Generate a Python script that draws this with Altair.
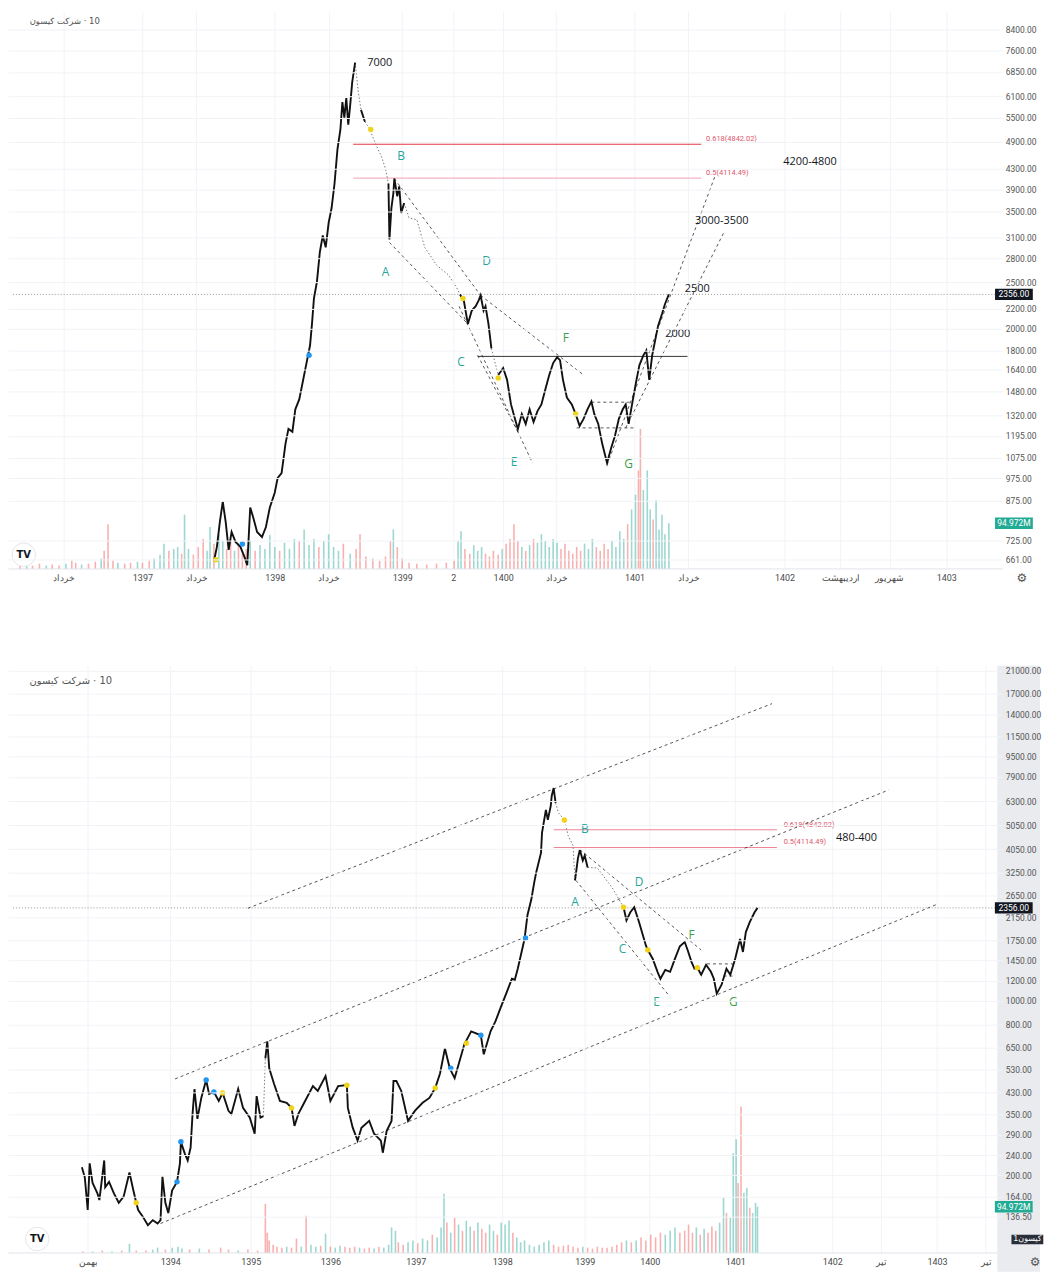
import json
import altair as alt
import pandas as pd

# ------------------------------------------------------------------ layout
W = 1000
H_TOP = 560
H_BOT = 590
GAP = 82
FONT = "Open Sans"
AXIS_FONT = "Roboto"
BOX_SHAPE = "M-1,-0.3L1,-0.3L1,0.3L-1,0.3Z"

TITLE = "شرکت کیسون\u200e · 10"
CURRENT_PRICE = 2356
LAST_VOLUME = 94.972

# ================================================================== TOP PANEL
TOP_BAR_DOMAIN = [8, 1012]
TOP_PRICE_DOMAIN = [633, 9144]
TOP_VOL_DOMAIN = [0, 1170]

TOP_XTICK_BARS = [60, 140, 195, 275, 330, 405, 457, 508, 562, 642, 697, 795, 852, 902, 960]
TOP_XTICK_LABELS = ["خرداد", "1397", "خرداد", "1398", "خرداد", "1399", "2", "1400",
                    "خرداد", "1401", "خرداد", "1402", "اردیبهشت", "شهریور", "1403"]
TOP_YTICKS = [8400, 7600, 6850, 6100, 5500, 4900, 4300, 3900, 3500, 3100, 2800, 2500,
              2200, 2000, 1800, 1640, 1480, 1320, 1195, 1075, 975, 875, 725, 661]

# (bar, price)
TOP_PATH = [
    (213, 655), (216, 702), (219, 790), (222, 872), (225, 790), (228, 692), (231, 754), (235, 719),
    (240, 702), (244, 670), (247, 643), (250, 848), (253, 809), (257, 754), (262, 736), (266, 772),
    (270, 848), (275, 910), (278, 977), (282, 1000), (286, 1152), (289, 1236), (293, 1219), (296, 1358),
    (300, 1424), (304, 1564), (308, 1719), (311, 1844), (313, 2045), (315, 2312), (318, 2500), (321, 2884),
    (324, 3125), (327, 2953), (330, 3322), (333, 3565), (336, 4010), (339, 4729), (342, 5196), (344, 5927),
    (346, 5498), (348, 6040), (350, 5320), (352, 5846), (354, 6512), (357, 7157), (360, 6273), (363, 5710),
    (367, 5394), (372, 5196), (378, 4842), (384, 4555), (388, 4304), (391, 4010), (392, 3066), (394, 3565),
    (396, 3827), (397, 4106), (400, 3772), (402, 3955), (404, 3482), (407, 3650), (412, 3401), (420, 3370),
    (428, 2953), (440, 2713), (452, 2588), (460, 2446), (464, 2356), (468, 2280), (472, 2045), (476, 2180),
    (480, 2226), (483, 2290), (485, 2345), (488, 2180), (490, 2226), (493, 2045), (496, 1818), (503, 1601),
    (508, 1655), (512, 1564), (516, 1390), (520, 1297), (523, 1236), (527, 1327), (531, 1266), (535, 1358),
    (539, 1278), (543, 1346), (547, 1390), (551, 1493), (555, 1601), (559, 1695), (563, 1743), (566, 1719),
    (569, 1564), (573, 1437), (578, 1390), (582, 1327), (586, 1254), (590, 1297), (594, 1358), (598, 1410),
    (601, 1327), (605, 1266), (609, 1152), (614, 1049), (618, 1125), (622, 1195), (626, 1297), (630, 1358),
    (633, 1390), (636, 1266), (640, 1410), (644, 1564), (647, 1679), (651, 1759), (654, 1801), (657, 1564),
    (660, 1759), (663, 1888), (666, 2026), (670, 2144), (673, 2248), (677, 2356)]
# bar ranges where only sparse (gapped) candles are drawn
TOP_SPARSE = [(357, 363), (367, 391), (407, 464), (496, 503)]

# (bar, volume in M, direction)
TOP_VOLUME = [
    (15, 6, 'd'), (22, 8, 'u'), (28, 6, 'd'), (35, 10, 'd'), (42, 6, 'u'), (48, 8, 'd'), (55, 6, 'd'),
    (62, 10, 'u'), (68, 16, 'd'), (72, 12, 'd'), (78, 8, 'u'), (85, 10, 'd'), (92, 14, 'd'), (98, 21, 'u'),
    (101, 37, 'd'), (105, 93, 'd'), (110, 16, 'd'), (115, 12, 'u'), (122, 10, 'd'), (128, 12, 'd'),
    (135, 14, 'u'), (140, 12, 'd'), (147, 16, 'd'), (152, 21, 'u'), (158, 29, 'u'), (162, 52, 'u'),
    (167, 37, 'd'), (172, 41, 'u'), (176, 45, 'u'), (180, 31, 'd'), (183, 113, 'u'), (187, 41, 'u'),
    (192, 29, 'd'), (197, 45, 'd'), (202, 62, 'd'), (206, 37, 'u'), (209, 87, 'u'), (213, 52, 'd'),
    (218, 72, 'u'), (222, 58, 'u'), (226, 41, 'd'), (230, 62, 'd'), (234, 37, 'u'), (238, 52, 'd'),
    (242, 31, 'd'), (246, 41, 'd'), (250, 58, 'u'), (255, 37, 'd'), (260, 49, 'u'), (265, 41, 'u'),
    (270, 70, 'u'), (275, 45, 'u'), (280, 37, 'd'), (285, 54, 'u'), (290, 41, 'u'), (295, 62, 'u'),
    (300, 58, 'd'), (305, 82, 'u'), (310, 49, 'u'), (315, 62, 'u'), (320, 45, 'd'), (325, 58, 'u'),
    (330, 72, 'u'), (335, 45, 'u'), (340, 37, 'u'), (345, 52, 'd'), (352, 31, 'u'), (358, 41, 'd'),
    (362, 72, 'd'), (368, 25, 'd'), (375, 21, 'd'), (382, 16, 'd'), (388, 25, 'd'), (393, 58, 'd'),
    (396, 82, 'u'), (400, 45, 'd'), (405, 21, 'd'), (412, 12, 'd'), (420, 10, 'd'), (430, 8, 'd'),
    (440, 10, 'd'), (450, 12, 'd'), (458, 16, 'd'), (462, 58, 'u'), (465, 78, 'u'), (469, 41, 'd'),
    (474, 31, 'd'), (478, 49, 'u'), (482, 37, 'u'), (486, 45, 'u'), (490, 31, 'd'), (494, 25, 'd'),
    (498, 37, 'd'), (503, 29, 'd'), (507, 41, 'u'), (511, 52, 'd'), (515, 62, 'd'), (519, 93, 'd'),
    (523, 58, 'd'), (527, 45, 'u'), (531, 37, 'd'), (535, 49, 'u'), (539, 62, 'd'), (543, 54, 'u'),
    (547, 72, 'u'), (551, 58, 'u'), (555, 45, 'u'), (559, 62, 'u'), (563, 54, 'u'), (567, 41, 'd'),
    (571, 52, 'd'), (575, 37, 'd'), (579, 31, 'd'), (583, 45, 'd'), (587, 37, 'd'), (591, 52, 'u'),
    (595, 41, 'u'), (599, 62, 'u'), (603, 45, 'd'), (607, 37, 'd'), (611, 52, 'd'), (615, 41, 'd'),
    (619, 58, 'u'), (623, 45, 'u'), (627, 78, 'u'), (631, 62, 'u'), (635, 93, 'd'), (639, 124, 'u'),
    (643, 155, 'u'), (646, 206, 'd'), (648, 293, 'd'), (651, 165, 'u'), (655, 206, 'u'), (658, 124, 'u'),
    (661, 103, 'd'), (664, 144, 'u'), (667, 82, 'u'), (670, 113, 'u'), (673, 72, 'u'), (677, 95, 'u')]

TOP_DOTS_YELLOW = [(215, 660), (373, 5196), (467, 2310), (503, 1578), (582, 1327)]
TOP_DOTS_BLUE = [(242, 712), (310, 1759)]

# (text, bar, price, kind)
TOP_TEXTS = [
    ("7000", 382, 7157, "num"), ("B", 404, 4576, "wave"), ("A", 388, 2625, "wave"),
    ("D", 491, 2765, "wave"), ("C", 465, 1702, "wave"), ("E", 519, 1054, "wave"),
    ("F", 572, 1915, "wave2"), ("G", 636, 1044, "wave2"), ("4200-4800", 821, 4446, "num"),
    ("3000-3500", 731, 3353, "num"), ("2500", 706, 2412, "num"), ("2000", 686, 1952, "num")]

# (ratio, price, bar_from, bar_to)
TOP_FIBS = [(0.618, 4842.02, 355, 710), (0.5, 4114.49, 355, 710)]
TOP_FIB_LABEL_BAR = 715

# (bar1, price1, bar2, price2)
TOP_DASHED = [
    (397, 4106, 485, 2345), (485, 2345, 590, 1601), (392, 3023, 472, 2045),
    (463, 2226, 538, 1049), (482, 1759, 523, 1219), (614, 1040, 724, 4150),
    (633, 1242, 733, 3168), (598, 1405, 637, 1405), (583, 1242, 642, 1242)]
# (price, bar_from, bar_to)
TOP_LEVELS = [(1750, 482, 696)]

# ================================================================== BOTTOM PANEL
BOT_BAR_DOMAIN = [8, 1022]
BOT_PRICE_DOMAIN = [98, 21980]
BOT_VOL_DOMAIN = [0, 1218]

BOT_XTICK_BARS = [85, 170, 253, 335, 423, 512, 597, 664, 752, 852, 902, 960, 1010]
BOT_XTICK_LABELS = ["بهمن", "1394", "1395", "1396", "1397", "1398", "1399", "1400",
                    "1401", "1402", "تیر", "1403", "تیر"]
BOT_YTICKS = [21000, 17000, 14000, 11500, 9500, 7900, 6300, 5050, 4050, 3250, 2650, 2150,
              1750, 1450, 1200, 1000, 800, 650, 530, 430, 350, 290, 240, 200, 164, 136.5]

BOT_PATH = [
    (79, 215), (82, 196), (85, 145), (87, 223), (90, 186), (95, 169), (97, 159), (102, 229), (103, 179),
    (107, 188), (112, 169), (117, 155), (122, 164), (128, 205), (132, 174), (135, 155), (137, 145),
    (142, 136), (147, 126), (152, 132), (157, 128), (160, 132), (162, 197), (165, 155), (168, 141),
    (172, 174), (177, 188), (180, 223), (181, 272), (185, 244), (188, 229), (191, 258), (193, 352),
    (195, 443), (198, 336), (202, 408), (207, 481), (210, 423), (215, 431), (220, 397), (224, 427),
    (230, 362), (233, 352), (240, 443), (245, 372), (252, 340), (257, 293), (259, 415), (263, 340),
    (266, 345), (268, 588), (270, 688), (272, 536), (277, 464), (283, 397), (290, 390), (295, 372),
    (298, 315), (302, 352), (308, 390), (317, 455), (322, 435), (330, 499), (335, 397), (343, 455),
    (352, 459), (353, 372), (358, 310), (363, 275), (367, 310), (375, 330), (380, 293), (387, 275),
    (389, 246), (393, 301), (398, 330), (400, 477), (403, 477), (408, 435), (415, 330), (422, 362),
    (430, 390), (437, 408), (443, 447), (448, 512), (453, 644), (458, 536), (463, 490), (468, 572),
    (473, 669), (480, 754), (490, 727), (493, 610), (500, 754), (505, 826), (510, 930), (518, 1116),
    (522, 1225), (525, 1214), (528, 1344), (535, 1767), (538, 2202), (542, 2550), (545, 2980),
    (547, 3266), (552, 3923), (553, 4712), (557, 5820), (559, 5305), (562, 6040), (563, 6620),
    (565, 7120), (567, 6203), (570, 5660), (576, 5305), (580, 4585), (585, 4180), (587, 3036),
    (590, 3720), (592, 4030), (595, 3645), (597, 3817), (600, 3419), (610, 3405), (625, 2848),
    (637, 2369), (640, 2101), (644, 2263), (648, 2369), (653, 2065), (657, 1825), (660, 1665),
    (662, 1597), (667, 1474), (672, 1306), (675, 1225), (680, 1330), (685, 1306), (690, 1474),
    (695, 1653), (700, 1719), (703, 1597), (707, 1431), (710, 1344), (713, 1356), (717, 1271),
    (722, 1393), (727, 1306), (730, 1225), (733, 1068), (738, 1160), (743, 1344), (747, 1271),
    (752, 1474), (757, 1767), (760, 1569), (763, 1884), (767, 2065), (772, 2263), (775, 2356)]
BOT_SPARSE = [(266, 268), (567, 587), (600, 637)]

BOT_VOLUME = [
    (80, 2, 'd'), (90, 2, 'u'), (100, 4, 'd'), (110, 2, 'u'), (120, 4, 'd'), (128, 18, 'u'), (135, 4, 'd'),
    (145, 4, 'd'), (152, 6, 'u'), (157, 10, 'u'), (165, 6, 'd'), (172, 10, 'u'), (178, 12, 'u'),
    (182, 8, 'u'), (190, 6, 'd'), (200, 8, 'u'), (210, 6, 'd'), (222, 10, 'd'), (230, 6, 'd'),
    (240, 4, 'u'), (250, 6, 'd'), (260, 4, 'd'), (268, 101, 'd'), (270, 41, 'd'), (272, 25, 'd'),
    (276, 16, 'd'), (280, 12, 'd'), (285, 10, 'd'), (290, 12, 'u'), (295, 10, 'd'), (300, 29, 'd'),
    (305, 12, 'u'), (310, 76, 'd'), (315, 16, 'u'), (320, 12, 'u'), (325, 14, 'd'), (330, 39, 'u'),
    (335, 12, 'd'), (340, 10, 'u'), (345, 14, 'u'), (350, 12, 'd'), (355, 10, 'd'), (360, 12, 'd'),
    (365, 10, 'u'), (370, 8, 'd'), (375, 10, 'd'), (380, 8, 'u'), (385, 12, 'd'), (390, 10, 'u'),
    (395, 16, 'u'), (398, 52, 'u'), (402, 45, 'u'), (405, 21, 'd'), (410, 16, 'd'), (415, 21, 'u'),
    (420, 25, 'u'), (425, 19, 'd'), (430, 29, 'u'), (435, 25, 'u'), (440, 37, 'd'), (445, 31, 'u'),
    (449, 52, 'u'), (452, 122, 'u'), (455, 62, 'd'), (459, 41, 'u'), (463, 72, 'd'), (467, 58, 'u'),
    (471, 45, 'd'), (475, 66, 'u'), (479, 54, 'u'), (483, 45, 'd'), (487, 62, 'u'), (491, 49, 'd'),
    (495, 41, 'd'), (499, 58, 'u'), (503, 45, 'u'), (507, 37, 'd'), (511, 62, 'u'), (515, 58, 'u'),
    (519, 66, 'u'), (523, 41, 'd'), (527, 31, 'u'), (531, 21, 'u'), (535, 25, 'u'), (540, 16, 'u'),
    (545, 12, 'u'), (550, 16, 'u'), (555, 21, 'u'), (560, 25, 'u'), (565, 16, 'd'), (570, 12, 'd'),
    (575, 14, 'd'), (580, 16, 'd'), (585, 12, 'd'), (590, 10, 'd'), (595, 12, 'u'), (600, 10, 'd'),
    (605, 8, 'd'), (610, 12, 'd'), (615, 10, 'd'), (620, 10, 'd'), (625, 12, 'd'), (630, 16, 'd'),
    (635, 21, 'd'), (640, 25, 'u'), (645, 21, 'd'), (650, 25, 'u'), (655, 31, 'd'), (660, 25, 'd'),
    (665, 37, 'd'), (670, 31, 'd'), (675, 41, 'd'), (680, 37, 'u'), (685, 45, 'u'), (690, 52, 'u'),
    (695, 41, 'd'), (700, 45, 'd'), (704, 58, 'd'), (708, 41, 'd'), (712, 52, 'u'), (716, 37, 'd'),
    (720, 49, 'u'), (724, 41, 'd'), (728, 54, 'd'), (732, 45, 'd'), (736, 62, 'u'), (740, 113, 'u'),
    (743, 82, 'd'), (747, 72, 'u'), (750, 206, 'u'), (753, 235, 'u'), (755, 144, 'd'), (758, 303, 'd'),
    (761, 124, 'u'), (764, 134, 'u'), (767, 93, 'd'), (770, 82, 'u'), (773, 103, 'u'), (775, 95, 'u')]

BOT_DOTS_YELLOW = [(135, 155), (224, 427), (295, 372), (352, 459), (443, 447), (475, 675),
                   (576, 5305), (637, 2369), (662, 1597), (713, 1356)]
BOT_DOTS_BLUE = [(177, 188), (181, 272), (207, 481), (215, 431), (459, 536), (490, 727), (536, 1783)]

BOT_TEXTS = [
    ("B", 597, 4888, "wave"), ("A", 587, 2481, "wave"), ("D", 653, 2980, "wave"),
    ("C", 636, 1616, "wave"), ("E", 671, 992, "wave"), ("F", 707, 1833, "wave2"),
    ("G", 750, 992, "wave2"), ("480-400", 877, 4500, "num")]
BOT_FIBS = [(0.618, 4842.02, 565, 795), (0.5, 4114.49, 565, 795)]
BOT_FIB_LABEL_BAR = 802
BOT_DASHED = [
    (250, 2347, 790, 15511), (175, 486, 910, 6990), (160, 128, 960, 2436),
    (592, 4030, 717, 1597), (588, 3036, 683, 1058), (723, 1405, 750, 1405), (740, 1256, 752, 1256)]
BOT_LEVELS = []


# ------------------------------------------------------------------ helpers
def path_frame(path, sparse):
    rows, run, prev = [], -1, None
    for i in range(1, len(path)):
        b0, p0 = path[i - 1]
        b1, p1 = path[i]
        kind = "sparse" if any(lo <= b0 and b1 <= hi for lo, hi in sparse) else "solid"
        if kind != prev:
            run += 1
            rows.append(dict(bar=b0, price=p0, run=run, kind=kind))
            prev = kind
        rows.append(dict(bar=b1, price=p1, run=run, kind=kind))
    return pd.DataFrame(rows)


def build_panel(d, height):
    sc_x = alt.Scale(domain=d["bar_domain"], nice=False, zero=False)
    sc_p = alt.Scale(type="log", domain=d["price_domain"], nice=False)
    sc_v = alt.Scale(domain=d["vol_domain"], nice=False, zero=True)
    label_expr = "%s[indexof(%s, datum.value)]" % (
        json.dumps(d["xt_labels"], ensure_ascii=False), json.dumps(d["xt_bars"]))
    x_axis = alt.Axis(values=d["xt_bars"], labelExpr=label_expr, labelFont=AXIS_FONT,
                      labelFontSize=9, labelColor="#4a4a4a", ticks=False, domain=True,
                      domainColor="#e0e3eb", grid=True, gridColor="#f1f3f7",
                      labelOverlap=False, labelFlush=False, labelPadding=5, title=None)
    y_axis = alt.Axis(orient="right", values=d["y_ticks"], format=".2f", labelFont=AXIS_FONT,
                      labelFontSize=8.5, labelColor="#555555", ticks=False, domain=False,
                      grid=True, gridColor="#f1f3f7", labelOverlap=False, labelPadding=3,
                      zindex=1, title=None)

    # every layer carries the identical axis definition so the merged axis stays enabled
    def X(field="bar"):
        return alt.X(field + ":Q", scale=sc_x, axis=x_axis)

    def P(field="price"):
        return alt.Y(field + ":Q", scale=sc_p, axis=y_axis)

    def V(field="vol"):
        return alt.Y(field + ":Q", scale=sc_v, axis=None)

    # ---------------- volume group
    vol_df = pd.DataFrame(d["volume"], columns=["bar", "vol", "dir"])
    vol_layers = []
    if d.get("axis_bg"):
        bg = pd.DataFrame([dict(bar=d["axis_bg"][0], bar2=d["axis_bg"][1],
                                vol=d["axis_bg"][2], vol2=d["vol_domain"][1])])
        vol_layers.append(alt.Chart(bg).mark_rect(color="#e9ebef").encode(
            x=X(), x2=alt.X2("bar2"), y=V(), y2=alt.Y2("vol2")))
    vol_layers.append(alt.Chart(vol_df).transform_filter(alt.datum.dir == "u")
                      .mark_bar(width=1.6, color="#26a69a", opacity=0.45).encode(x=X(), y=V()))
    vol_layers.append(alt.Chart(vol_df).transform_filter(alt.datum.dir == "d")
                      .mark_bar(width=1.6, color="#ef5350", opacity=0.45).encode(x=X(), y=V()))
    vbox = pd.DataFrame([dict(bar=d["box_bar"], vol=LAST_VOLUME, label="94.972M")])
    vol_layers.append(alt.Chart(vbox).mark_point(shape=BOX_SHAPE, size=38 * 38, filled=True,
                                                  color="#22ab94", opacity=1).encode(x=X(), y=V()))
    vol_layers.append(alt.Chart(vbox).mark_text(color="white", font=AXIS_FONT, fontSize=8.5)
                      .encode(x=X(), y=V(), text="label:N"))
    if d.get("tag"):
        tag = pd.DataFrame([dict(bar=d["tag"][0], vol=d["tag"][1], label=d["tag"][2])])
        vol_layers.append(alt.Chart(tag).mark_point(shape=BOX_SHAPE, size=32 * 32, filled=True,
                                                     color="#2a2e39", opacity=1).encode(x=X(), y=V()))
        vol_layers.append(alt.Chart(tag).mark_text(color="white", font="DejaVu Sans", fontSize=8)
                          .encode(x=X(), y=V(), text="label:N"))
    vol_group = alt.layer(*vol_layers)

    # ---------------- price group
    path_df = path_frame(d["path"], d["sparse"])
    L = []
    cur = pd.DataFrame([dict(bar=d["bar_domain"][0], bar2=d["bar_domain"][1], price=CURRENT_PRICE)])
    L.append(alt.Chart(cur).mark_rule(color="#8a8a8a", strokeDash=[1, 2], strokeWidth=0.9)
             .encode(x=X(), x2=alt.X2("bar2"), y=P()))
    fib_df = pd.DataFrame(d["fibs"], columns=["ratio", "price", "bar", "bar2"])
    fib_df["label"] = ["%g(%.2f)" % (r, p) for r, p in zip(fib_df.ratio, fib_df.price)]
    fib_df["lbar"] = d["fib_label_bar"]
    for ratio, col in d["fib_colors"].items():
        L.append(alt.Chart(fib_df).transform_filter(alt.datum.ratio == ratio)
                 .mark_rule(color=col, strokeWidth=1.1).encode(x=X(), x2=alt.X2("bar2"), y=P()))
    L.append(alt.Chart(fib_df).mark_text(align="left", baseline="bottom", dy=-1, color="#e0566a",
                                         font=AXIS_FONT, fontSize=7.5)
             .encode(x=X("lbar"), y=P(), text="label:N"))
    if d["levels"]:
        lv = pd.DataFrame(d["levels"], columns=["price", "bar", "bar2"])
        L.append(alt.Chart(lv).mark_rule(color="#333333", strokeWidth=1)
                 .encode(x=X(), x2=alt.X2("bar2"), y=P()))
    dash_df = pd.DataFrame(d["dashed"], columns=["bar", "price", "bar2", "price2"])
    L.append(alt.Chart(dash_df).mark_rule(color="#222222", strokeWidth=0.9, strokeDash=[3, 3],
                                          opacity=0.85)
             .encode(x=X(), y=P(), x2=alt.X2("bar2"), y2=alt.Y2("price2")))
    L.append(alt.Chart(path_df).transform_filter(alt.datum.kind == "sparse")
             .mark_line(color="#7a7a7a", strokeWidth=1, strokeDash=[1.5, 2])
             .encode(x=X(), y=P(), detail="run:N"))
    L.append(alt.Chart(path_df).transform_filter(alt.datum.kind == "solid")
             .mark_line(color="#111111", strokeWidth=1.9)
             .encode(x=X(), y=P(), detail="run:N"))
    for dots, col in ((d["dots_yellow"], "#f2d31b"), (d["dots_blue"], "#2196f3")):
        ddf = pd.DataFrame(dots, columns=["bar", "price"])
        L.append(alt.Chart(ddf).mark_circle(size=30, color=col, opacity=1).encode(x=X(), y=P()))
    txt = pd.DataFrame(d["texts"], columns=["label", "bar", "price", "kind"])
    for kind, col, size in (("num", "#131722", 11), ("wave", "#26a69a", 12), ("wave2", "#3e9e47", 12)):
        L.append(alt.Chart(txt).transform_filter(alt.datum.kind == kind)
                 .mark_text(color=col, font=FONT, fontSize=size)
                 .encode(x=X(), y=P(), text="label:N"))
    # title
    tdf = pd.DataFrame([dict(bar=d["title_pos"][0], price=d["title_pos"][1], label=TITLE)])
    L.append(alt.Chart(tdf).mark_text(align="left", color="#555555", font="DejaVu Sans",
                                      fontSize=d["title_size"])
             .encode(x=X(), y=P(), text="label:N"))
    # TradingView logo
    ldf = pd.DataFrame([dict(bar=d["logo_pos"][0], price=d["logo_pos"][1], label="TV")])
    L.append(alt.Chart(ldf).mark_point(shape="circle", size=560, filled=True, color="white",
                                       stroke="#e3e5ea", strokeWidth=1, opacity=1)
             .encode(x=X(), y=P()))
    L.append(alt.Chart(ldf).mark_text(color="#131722", font="DejaVu Sans", fontSize=10,
                                      fontWeight="bold")
             .encode(x=X(), y=P(), text="label:N"))
    # current price box
    pbox = pd.DataFrame([dict(bar=d["box_bar"], price=CURRENT_PRICE, label="2356.00")])
    L.append(alt.Chart(pbox).mark_point(shape=BOX_SHAPE, size=38 * 38, filled=True,
                                        color="#131722", opacity=1).encode(x=X(), y=P()))
    L.append(alt.Chart(pbox).mark_text(color="white", font=AXIS_FONT, fontSize=8.5)
             .encode(x=X(), y=P(), text="label:N"))
    # settings gear under the price axis
    gdf = pd.DataFrame([dict(bar=d["gear_bar"], label="⚙")])
    L.append(alt.Chart(gdf).mark_text(color="#555555", font="DejaVu Sans", fontSize=12)
             .encode(x=X(), y=alt.value(height + 10), text="label:N"))
    price_group = alt.layer(*L)

    return (alt.layer(vol_group, price_group)
            .resolve_scale(y="independent")
            .properties(width=W, height=height))


top = build_panel(dict(
    bar_domain=TOP_BAR_DOMAIN, price_domain=TOP_PRICE_DOMAIN, vol_domain=TOP_VOL_DOMAIN,
    xt_bars=TOP_XTICK_BARS, xt_labels=TOP_XTICK_LABELS, y_ticks=TOP_YTICKS,
    path=TOP_PATH, sparse=TOP_SPARSE, volume=TOP_VOLUME,
    dots_yellow=TOP_DOTS_YELLOW, dots_blue=TOP_DOTS_BLUE, texts=TOP_TEXTS,
    fibs=TOP_FIBS, fib_label_bar=TOP_FIB_LABEL_BAR,
    fib_colors={0.618: "#e53945", 0.5: "#f5b3c3"},
    dashed=TOP_DASHED, levels=TOP_LEVELS,
    title_pos=(25, 8760), title_size=8.5, logo_pos=(19, 676),
    box_bar=1029, gear_bar=1037), H_TOP)

bottom = build_panel(dict(
    bar_domain=BOT_BAR_DOMAIN, price_domain=BOT_PRICE_DOMAIN, vol_domain=BOT_VOL_DOMAIN,
    xt_bars=BOT_XTICK_BARS, xt_labels=BOT_XTICK_LABELS, y_ticks=BOT_YTICKS,
    path=BOT_PATH, sparse=BOT_SPARSE, volume=BOT_VOLUME,
    dots_yellow=BOT_DOTS_YELLOW, dots_blue=BOT_DOTS_BLUE, texts=BOT_TEXTS,
    fibs=BOT_FIBS, fib_label_bar=BOT_FIB_LABEL_BAR,
    fib_colors={0.618: "#ec8596", 0.5: "#ec8596"},
    dashed=BOT_DASHED, levels=BOT_LEVELS,
    title_pos=(25, 19160), title_size=10, logo_pos=(33, 111),
    box_bar=1039, gear_bar=1061, axis_bg=(1022, 1066, -40), tag=(1053, 27, "کیسون1")), H_BOT)

chart = (alt.vconcat(top, bottom, spacing=GAP)
         .properties(padding=0, background="white")
         .configure_view(stroke=None))

chart.save("out.html", embed_options={"renderer": "svg", "actions": False})
